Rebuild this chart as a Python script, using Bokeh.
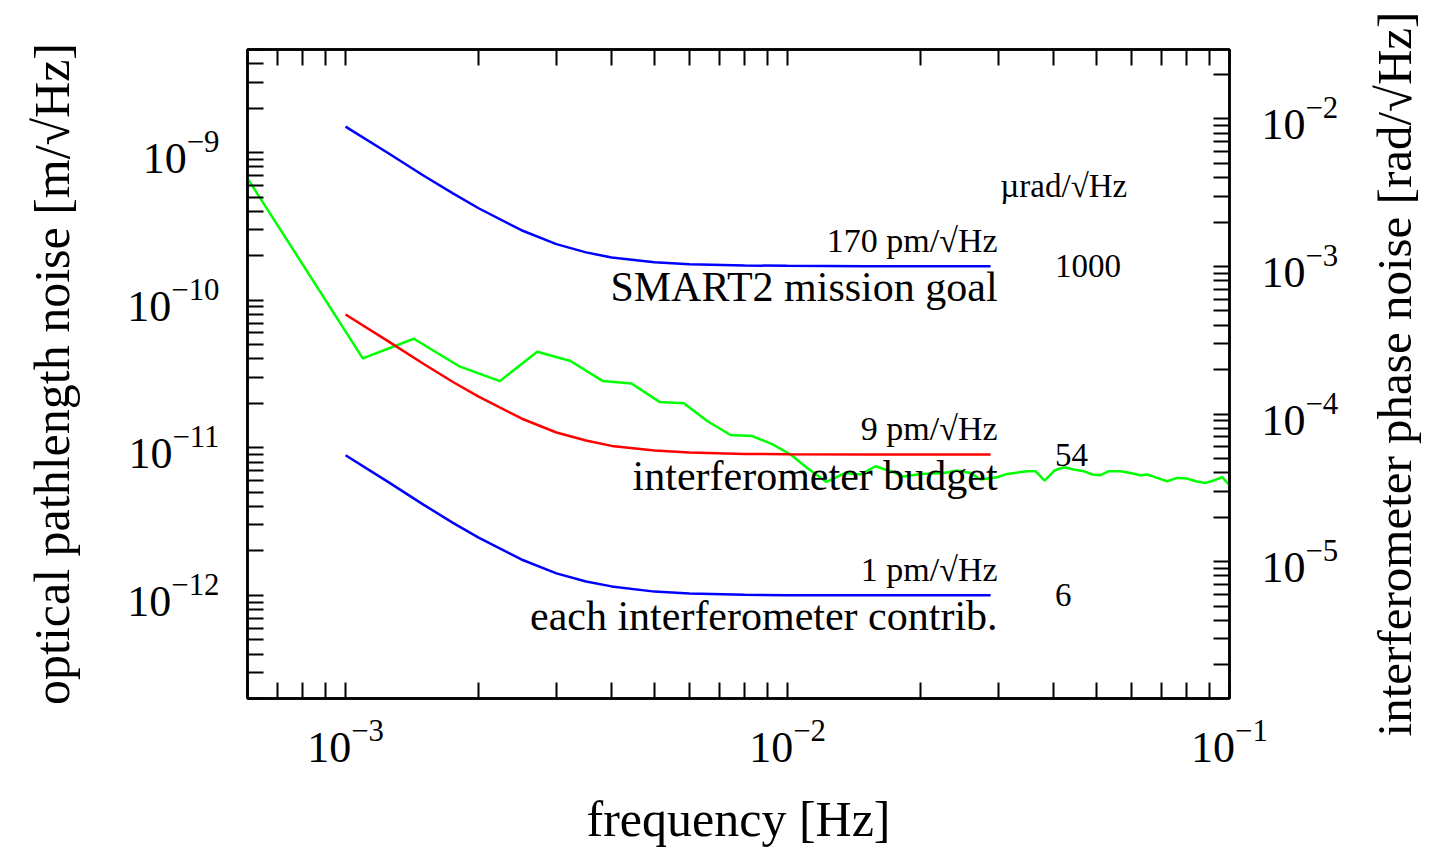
import numpy as np
from bokeh.plotting import figure
from bokeh.layouts import row
from bokeh.models import (LogAxis, Range1d, LogScale, FixedTicker, Label, Title,
                          LogTickFormatter, CustomJSTickFormatter)
from bokeh.embed import file_html
from bokeh.resources import INLINE

FONT = "Liberation Serif"

# ---- axes -------------------------------------------------------------
x_lo, x_hi = 6e-4, 1e-1
y_lo, y_hi = 2e-13, 5e-9
rad_per_m = 2 * np.pi / 1.064e-6          # phase per metre of path at 1064 nm

x_ticks = [1e-3, 1e-2, 1e-1]
y_ticks = [1e-12, 1e-11, 1e-10, 1e-9]
phase_ticks = [1e-5, 1e-4, 1e-3, 1e-2]

x_title = "frequency [Hz]"
y_title = "optical pathlength noise [m/\u221aHz]"
phase_title = "interferometer phase noise [rad/\u221aHz]"

# ---- requirement curves (m/sqrt(Hz)) ---------------------------------
req_freq = [1.0e-3, 1.25e-3, 1.5e-3, 1.75e-3, 2.0e-3, 2.5e-3, 3.0e-3, 3.5e-3,
            4.0e-3, 5.0e-3, 6.0e-3, 8.0e-3, 1.0e-2, 1.5e-2, 2.0e-2, 2.88e-2]
mission_goal = [1.50e-9, 9.9e-10, 7.0e-10, 5.3e-10, 4.2e-10, 2.98e-10, 2.40e-10, 2.11e-10,
                1.95e-10, 1.81e-10, 1.75e-10, 1.72e-10, 1.71e-10, 1.70e-10, 1.70e-10, 1.70e-10]
ifo_budget = [8.0e-11, 5.26e-11, 3.71e-11, 2.79e-11, 2.22e-11, 1.58e-11, 1.27e-11, 1.12e-11,
              1.03e-11, 9.57e-12, 9.28e-12, 9.09e-12, 9.04e-12, 9.01e-12, 9.0e-12, 9.0e-12]
ifo_contrib = [8.9e-12, 5.85e-12, 4.12e-12, 3.10e-12, 2.46e-12, 1.75e-12, 1.41e-12, 1.24e-12,
               1.15e-12, 1.06e-12, 1.03e-12, 1.01e-12, 1.0e-12, 1.0e-12, 1.0e-12, 1.0e-12]

curve_names = ["SMART2 mission goal", "interferometer budget", "each interferometer contrib."]
curve_levels = ["170 pm/\u221aHz", "9 pm/\u221aHz", "1 pm/\u221aHz"]
curve_phase = ["1000", "54", "6"]
phase_unit = "\u00b5rad/\u221aHz"

# ---- measured noise (m/sqrt(Hz)) --------------------------------------
meas_freq = [6.0e-4, 1.094e-3, 1.427e-3, 1.804e-3, 2.234e-3, 2.715e-3, 3.228e-3, 3.821e-3,
             4.436e-3, 5.141e-3, 5.825e-3, 6.58e-3, 7.43e-3, 8.32e-3, 9.23e-3, 1.016e-2,
             1.108e-2, 1.225e-2, 1.353e-2, 1.463e-2, 1.581e-2, 1.710e-2, 1.833e-2, 2.000e-2,
             2.258e-2, 2.42e-2, 2.594e-2, 2.733e-2, 2.980e-2, 3.141e-2, 3.485e-2, 3.640e-2,
             3.815e-2, 4.018e-2, 4.218e-2, 4.443e-2, 4.681e-2, 4.891e-2, 5.107e-2, 5.333e-2,
             5.667e-2, 5.970e-2, 6.29e-2, 6.51e-2, 6.86e-2, 7.23e-2, 7.61e-2, 8.02e-2,
             8.38e-2, 8.83e-2, 9.21e-2, 9.63e-2, 1.0e-1]
meas_noise = [6.7e-10, 4.04e-11, 5.48e-11, 3.58e-11, 2.83e-11, 4.48e-11, 3.87e-11, 2.83e-11,
              2.73e-11, 2.04e-11, 2.00e-11, 1.52e-11, 1.22e-11, 1.20e-11, 1.06e-11, 9.0e-12,
              7.3e-12, 5.87e-12, 6.75e-12, 6.59e-12, 7.50e-12, 6.94e-12, 6.38e-12, 6.65e-12,
              6.75e-12, 7.01e-12, 6.75e-12, 6.09e-12, 6.32e-12, 6.65e-12, 6.94e-12, 6.94e-12,
              6.00e-12, 7.01e-12, 7.38e-12, 7.12e-12, 6.94e-12, 6.59e-12, 6.52e-12, 6.94e-12,
              6.94e-12, 6.75e-12, 6.52e-12, 6.59e-12, 6.25e-12, 5.93e-12, 6.25e-12, 6.19e-12,
              5.93e-12, 5.78e-12, 6.00e-12, 6.32e-12, 5.57e-12]


def minor_ticks(decades):
    return [m * 10.0 ** e for e in decades for m in range(2, 10)]


BORDER_TOP, FRAME_H, BORDER_BOTTOM = 49, 649, 150

p = figure(
    frame_width=982, frame_height=FRAME_H,
    min_border_left=247, min_border_right=135,
    min_border_top=BORDER_TOP, min_border_bottom=BORDER_BOTTOM,
    x_axis_type="log", y_axis_type="log",
    x_range=Range1d(x_lo, x_hi), y_range=Range1d(y_lo, y_hi),
    output_backend="svg", toolbar_location=None,
)
p.background_fill_color = "white"
p.border_fill_color = "white"
p.grid.visible = False
p.outline_line_color = "black"
p.outline_line_width = 2.5

bottom_axis = p.below[0]
left_axis = p.left[0]

p.extra_y_ranges = {"phase": Range1d(y_lo * rad_per_m, y_hi * rad_per_m)}
p.extra_y_scales = {"phase": LogScale()}

x_ticker = FixedTicker(ticks=x_ticks, minor_ticks=minor_ticks(range(-4, -1)))
y_ticker = FixedTicker(ticks=y_ticks, minor_ticks=minor_ticks(range(-13, -8)))
ph_ticker = FixedTicker(ticks=phase_ticks, minor_ticks=minor_ticks(range(-7, -1)))

top_axis = LogAxis()
right_axis = LogAxis(y_range_name="phase")
p.add_layout(top_axis, "above")
p.add_layout(right_axis, "right")

for ax, tk in [(bottom_axis, x_ticker), (top_axis, x_ticker),
               (left_axis, y_ticker), (right_axis, ph_ticker)]:
    ax.ticker = tk
    ax.axis_line_width = 2.5
    ax.axis_line_color = "black"
    ax.major_tick_in = 16
    ax.major_tick_out = 0
    ax.minor_tick_in = 16
    ax.minor_tick_out = 0
    ax.major_tick_line_width = 2
    ax.minor_tick_line_width = 2
    ax.major_tick_line_color = "black"
    ax.minor_tick_line_color = "black"
    ax.major_label_text_font = FONT
    ax.major_label_text_font_size = "44px"
    ax.major_label_text_color = "black"
    ax.axis_label_text_font = FONT
    ax.axis_label_text_font_size = "50px"
    ax.axis_label_text_font_style = "normal"
    ax.axis_label_text_color = "black"

for ax in [bottom_axis, left_axis, right_axis]:
    ax.formatter = LogTickFormatter()

top_axis.formatter = CustomJSTickFormatter(code="return ''")
top_axis.major_label_text_font_size = "1px"
top_axis.major_label_standoff = 0

bottom_axis.major_label_standoff = 22
left_axis.major_label_standoff = 28
right_axis.major_label_standoff = 32

bottom_axis.axis_label = x_title
left_axis.axis_label = y_title
bottom_axis.axis_label_standoff = 26
left_axis.axis_label_standoff = 44

# ---- curves -----------------------------------------------------------
p.line(meas_freq, meas_noise, line_color="#00ff00", line_width=2.5)
p.line(req_freq, mission_goal, line_color="#0000ff", line_width=2.5)
p.line(req_freq, ifo_budget, line_color="#ff0000", line_width=2.5)
p.line(req_freq, ifo_contrib, line_color="#0000ff", line_width=2.5)


def add_text(text, x, y, size, align="left", baseline="alphabetic", dx=0, dy=0):
    p.add_layout(Label(x=x, y=y, text=text, x_offset=dx, y_offset=dy,
                       text_font=FONT, text_font_size=f"{size}px",
                       text_align=align, text_baseline=baseline,
                       text_color="black"))


# curve annotations: level above the line, name below, phase value to the right
end_f = req_freq[-1]
for curve, name, level, ph in zip([mission_goal, ifo_budget, ifo_contrib],
                                  curve_names, curve_levels, curve_phase):
    lvl = curve[-1]
    add_text(level, end_f, lvl, 34, align="right", dx=7, dy=26)
    add_text(name, end_f, lvl, 42, align="right", dx=7, dy=-21)
    add_text(ph, 0.0403, lvl, 33, align="left", baseline="middle")
add_text(phase_unit, 0.0303, 5.97e-10, 33, align="left", baseline="middle")

# ---- narrow strip carrying the phase-axis title, read bottom to top ----
q = figure(
    frame_width=3, frame_height=FRAME_H,
    min_border_left=0, min_border_right=0,
    min_border_top=BORDER_TOP, min_border_bottom=BORDER_BOTTOM,
    x_range=Range1d(0, 1), y_range=Range1d(0, 1),
    x_axis_location=None, y_axis_location=None,
    output_backend="svg", toolbar_location=None,
)
q.grid.visible = False
q.outline_line_color = None
q.background_fill_color = "white"
q.border_fill_color = "white"
q.add_layout(Title(text=phase_title, align="center", standoff=0,
                   text_font=FONT, text_font_size="49px", text_font_style="normal",
                   text_color="black"), "left")

layout = row(p, q, spacing=0)
open("out.html", "w").write(file_html(layout, INLINE))
